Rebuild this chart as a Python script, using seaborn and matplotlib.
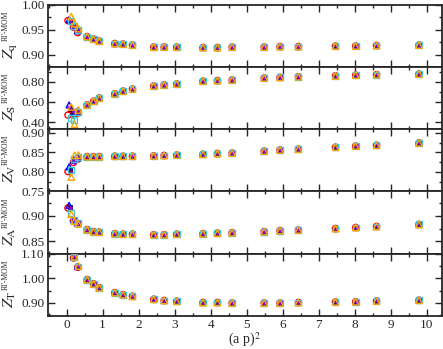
import matplotlib
matplotlib.use('Agg')
import matplotlib.pyplot as plt
import seaborn as sns
import numpy as np
from matplotlib.ticker import MultipleLocator, FormatStrFormatter

# (a p)^2 values shared by every data set above the lowest momenta
x_common = [0.57, 0.75, 0.91, 1.34, 1.57, 1.83, 2.42, 2.71, 3.06, 3.79, 4.19,
            4.60, 5.49, 5.93, 6.44, 7.47, 8.03, 8.61, 9.79]

zq_common = [0.936, 0.931, 0.927, 0.922, 0.921, 0.919, 0.915, 0.915, 0.915, 0.914, 0.914,
             0.915, 0.915, 0.916, 0.916, 0.917, 0.917, 0.918, 0.919]
zs_common = [0.571, 0.607, 0.638, 0.680, 0.706, 0.727, 0.757, 0.767, 0.777, 0.805, 0.811,
             0.817, 0.836, 0.842, 0.848, 0.858, 0.864, 0.869, 0.875]
zv_common = [0.839, 0.839, 0.839, 0.840, 0.840, 0.840, 0.841, 0.842, 0.843, 0.845, 0.847,
             0.848, 0.853, 0.856, 0.858, 0.863, 0.866, 0.868, 0.874]
za_common = [0.873, 0.869, 0.868, 0.865, 0.864, 0.864, 0.863, 0.863, 0.864, 0.865, 0.866,
             0.867, 0.869, 0.871, 0.872, 0.875, 0.877, 0.879, 0.883]
zt_common = [0.995, 0.978, 0.962, 0.942, 0.934, 0.927, 0.915, 0.910, 0.907, 0.902, 0.902,
             0.900, 0.900, 0.900, 0.902, 0.904, 0.905, 0.908, 0.911]

# lowest momenta differ from set to set
series_names = ['black', 'red', 'blue', 'violet', 'cyan', 'orange']
x_low = [[0.09, 0.20, 0.31],
         [0.04, 0.19, 0.31],
         [0.07, 0.20, 0.30],
         [0.10, 0.21, 0.32],
         [0.12, 0.21, 0.32],
         [0.13, 0.22, 0.33]]
zq_low = [[0.969, 0.957, 0.949],
          [0.968, 0.955, 0.944],
          [0.970, 0.958, 0.948],
          [0.967, 0.956, 0.946],
          [0.967, 0.958, 0.950],
          [0.976, 0.962, 0.952]]
zs_low = [[0.52, 0.48, 0.50],
          [0.47, 0.47, 0.49],
          [0.57, 0.50, 0.51],
          [0.54, 0.49, 0.50],
          [0.44, 0.42, 0.50],
          [0.55, 0.38, 0.52]]
zv_low = [[0.806, 0.828, 0.834],
          [0.801, 0.824, 0.833],
          [0.813, 0.830, 0.836],
          [0.795, 0.826, 0.835],
          [0.805, 0.832, 0.838],
          [0.787, 0.842, 0.843]]
za_low = [[0.916, 0.892, 0.885],
          [0.915, 0.890, 0.884],
          [0.920, 0.893, 0.886],
          [0.912, 0.891, 0.885],
          [0.905, 0.891, 0.886],
          [0.903, 0.889, 0.884]]
zt_low = [[np.nan, 1.085, 1.047],
          [np.nan, 1.083, 1.045],
          [np.nan, 1.087, 1.048],
          [np.nan, 1.084, 1.046],
          [np.nan, 1.086, 1.048],
          [np.nan, 1.088, 1.050]]

sns.set_style('ticks')
plt.rcParams['font.family'] = ['Liberation Serif', 'DejaVu Serif']
plt.rcParams['mathtext.fontset'] = 'stix'

colors = {'black': 'black', 'red': 'red', 'blue': 'blue', 'violet': '#9400d3',
          'cyan': '#3fc8d8', 'orange': '#ffa500'}
markers = {'black': 's', 'red': 'o', 'blue': '^', 'violet': 'v', 'cyan': 's', 'orange': '^'}
filled = {'black': True, 'red': False, 'blue': False, 'violet': True, 'cyan': False, 'orange': False}
sizes = {'black': 7, 'red': 20, 'blue': 18, 'violet': 10, 'cyan': 18, 'orange': 22}

panels = [
    ('q', zq_common, zq_low, (0.875, 1.0), 0.05, 0.025),
    ('S', zs_common, zs_low, (0.33, 0.945), 0.2, 0.1),
    ('V', zv_common, zv_low, (0.75, 0.909), 0.05, 0.025),
    ('A', za_common, za_low, (0.826, 0.947), 0.05, 0.025),
    ('T', zt_common, zt_low, (0.847, 1.10), 0.1, 0.05),
]

fig, axes = plt.subplots(5, 1, figsize=(4.43, 3.49), dpi=100, sharex=True)
fig.subplots_adjust(left=47.5/443, right=441.7/443, top=1-4.7/349, bottom=1-316/349, hspace=0)

for ax, (sub, common, low, ylim, major, minor) in zip(axes, panels):
    for i, name in enumerate(series_names):
        xs = x_low[i] + x_common
        ys = low[i] + common
        c = colors[name]
        if filled[name]:
            sns.scatterplot(x=xs, y=ys, ax=ax, marker=markers[name], s=sizes[name],
                            color=c, edgecolor=c, linewidth=0.6, zorder=3 + i)
        else:
            sns.scatterplot(x=xs, y=ys, ax=ax, marker=markers[name], s=sizes[name],
                            color=c, facecolor='none', edgecolor=c, linewidth=1.0, zorder=3 + i)
    ax.set_ylim(*ylim)
    ax.set_xlim(-0.53, 10.42)
    ax.yaxis.set_major_locator(MultipleLocator(major))
    ax.yaxis.set_minor_locator(MultipleLocator(minor))
    ax.yaxis.set_major_formatter(FormatStrFormatter('%.2f'))
    ax.xaxis.set_major_locator(MultipleLocator(1))
    ax.xaxis.set_minor_locator(MultipleLocator(0.5))
    ax.tick_params(which='both', direction='in', top=True, right=True, labelsize=9.5, pad=2)
    ax.tick_params(which='major', length=5, width=1)
    ax.tick_params(which='minor', length=2.5, width=1)
    for sp in ax.spines.values():
        sp.set_linewidth(1.3)
    # Z with subscript, then the small RI'-MOM superscript above it
    ax.text(-0.116, 0.13, r'$Z_{\rm %s}$' % sub, rotation=90, transform=ax.transAxes,
            ha='left', va='bottom', fontsize=11.5)
    ax.text(-0.116, 0.42, "RI'-MOM", rotation=90, transform=ax.transAxes,
            ha='left', va='bottom', fontsize=5.5)

axes[-1].set_xlabel(r'(a p)$^2$', fontsize=10, labelpad=0)

plt.savefig('out.png', dpi=100)
